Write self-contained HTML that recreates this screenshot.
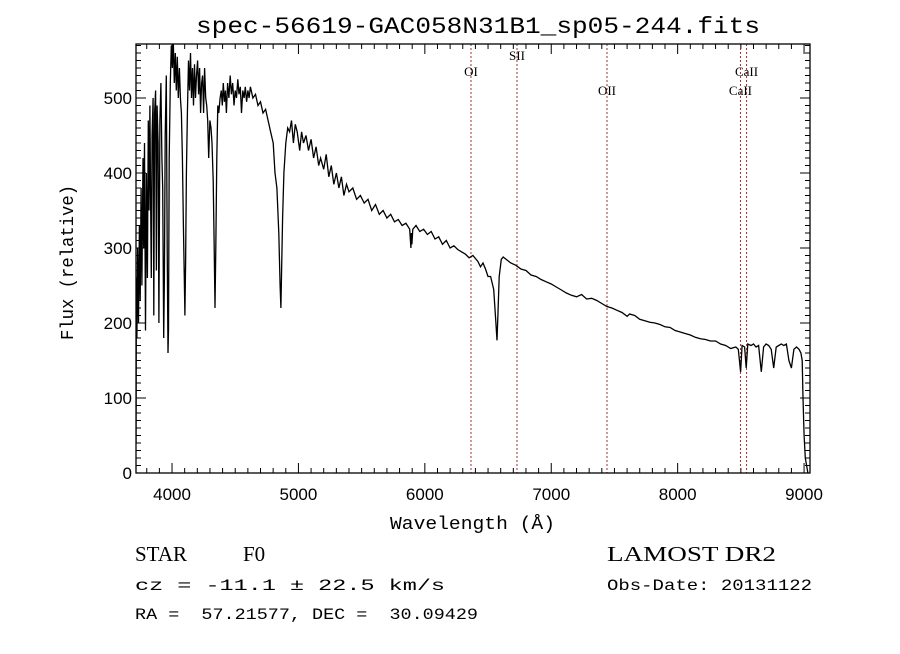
<!DOCTYPE html>
<html><head><meta charset="utf-8"><style>
body{margin:0;background:#fff;width:900px;height:649px;overflow:hidden}
svg text{font-family:"Liberation Sans",sans-serif;fill:#000}
</style></head><body>
<svg id="chart" width="900" height="649" viewBox="0 0 900 649" xmlns="http://www.w3.org/2000/svg">
<rect width="900" height="649" fill="#fff"/>
<defs><clipPath id="plotclip"><rect x="136" y="44" width="674" height="429"/></clipPath></defs>
<text x="196" y="33" font-size="23" textLength="564" lengthAdjust="spacingAndGlyphs" style="font-family:'Liberation Mono',monospace">spec-56619-GAC058N31B1_sp05-244.fits</text>
<g id="ticks" stroke="#000" stroke-width="1"></g>
<g id="xlabels"></g>
<g id="ylabels"></g>
<g id="lines"></g>
<path id="spec" fill="none" stroke="#000" stroke-width="1.3" clip-path="url(#plotclip)"/>
<rect x="136" y="44" width="674" height="429" fill="none" stroke="#000" stroke-width="1.3"/>
<text x="390" y="529" font-size="18" textLength="165" lengthAdjust="spacingAndGlyphs" style="font-family:'Liberation Mono',monospace">Wavelength (Å)</text>
<text transform="translate(73,340) rotate(-90)" font-size="18" textLength="155" lengthAdjust="spacingAndGlyphs" style="font-family:'Liberation Mono',monospace">Flux (relative)</text>
<text x="135" y="561" font-size="21" style="font-family:'Liberation Serif',serif">STAR</text>
<text x="243" y="561" font-size="21" style="font-family:'Liberation Serif',serif">F0</text>
<text x="607" y="561" font-size="21" textLength="169" lengthAdjust="spacingAndGlyphs" style="font-family:'Liberation Serif',serif">LAMOST DR2</text>
<text x="135" y="590" font-size="16" textLength="310" lengthAdjust="spacingAndGlyphs" style="font-family:'Liberation Mono',monospace">cz = -11.1 ± 22.5 km/s</text>
<text x="607" y="590" font-size="16" textLength="205" lengthAdjust="spacingAndGlyphs" style="font-family:'Liberation Mono',monospace">Obs-Date: 20131122</text>
<text x="135" y="619" font-size="16" xml:space="preserve" textLength="343" lengthAdjust="spacingAndGlyphs" style="font-family:'Liberation Mono',monospace;white-space:pre">RA =  57.21577, DEC =  30.09429</text>
</svg>
<script>
const xTicks=[4000,5000,6000,7000,8000,9000];
const yTicks=[0,100,200,300,400,500];
const lineNames=["OI","SII","OII","CaII","CaII"];
const lineWaves=[6365,6729,7441,8497,8545];
const lineLabelY=[76,60,95,95,76];
const waves=[3715,3718,3722,3728,3735,3742,3748,3755,3762,3770,3776,3782,3790,3797,3805,3812,3818,3825,3830,3836,3842,3850,3856,3862,3870,3876,3882,3890,3896,3904,3912,3920,3926,3934,3940,3946,3955,3962,3968,3972,3978,3986,3994,4002,4010,4018,4026,4034,4042,4050,4058,4066,4074,4082,4090,4097,4102,4107,4114,4122,4130,4138,4146,4154,4162,4170,4178,4186,4194,4202,4210,4218,4226,4234,4242,4250,4258,4266,4274,4282,4290,4300,4308,4316,4326,4334,4340,4346,4354,4362,4370,4380,4390,4398,4406,4414,4422,4430,4440,4450,4460,4470,4480,4490,4500,4510,4520,4530,4540,4550,4560,4570,4580,4590,4600,4610,4620,4640,4660,4680,4700,4720,4740,4760,4780,4800,4815,4830,4845,4855,4861,4867,4875,4885,4900,4915,4930,4945,4960,4975,4990,5010,5025,5040,5060,5080,5100,5120,5140,5160,5175,5200,5220,5240,5260,5280,5300,5320,5340,5360,5380,5400,5430,5460,5490,5520,5550,5580,5610,5640,5670,5700,5730,5760,5790,5820,5850,5880,5890,5894,5898,5905,5930,5960,5990,6020,6050,6080,6110,6140,6170,6200,6230,6260,6290,6320,6350,6380,6420,6440,6460,6480,6500,6520,6545,6562,6571,6578,6588,6605,6620,6650,6680,6720,6760,6800,6840,6880,6920,6960,7000,7040,7080,7120,7160,7200,7240,7280,7320,7360,7400,7440,7480,7520,7560,7600,7620,7660,7700,7740,7780,7820,7860,7900,7940,7980,8020,8060,8100,8140,8180,8220,8260,8300,8340,8380,8420,8460,8480,8498,8510,8530,8542,8555,8580,8600,8620,8640,8662,8680,8700,8720,8740,8760,8780,8800,8820,8840,8860,8880,8900,8920,8940,8960,8975,8985,8992,9000,9010,9030];
const flux=[40,260,180,300,200,330,230,380,250,420,300,440,190,400,260,470,350,490,380,260,450,500,210,480,510,270,490,440,200,470,520,420,380,180,260,450,530,300,160,190,420,520,570,540,575,520,560,510,555,500,540,500,480,420,330,260,210,280,400,480,550,510,560,500,540,490,545,500,530,550,505,540,480,520,530,480,540,500,490,470,420,470,460,440,390,300,220,300,420,490,480,500,510,490,520,495,510,480,520,500,530,505,520,490,510,500,525,505,515,480,510,500,515,495,510,500,515,500,505,490,495,480,485,470,455,440,400,380,320,250,220,270,340,400,440,460,455,470,440,465,455,430,455,440,450,430,445,420,435,410,420,405,425,395,410,385,400,380,395,370,385,375,380,365,370,360,365,350,358,345,350,340,345,335,338,330,333,325,300,320,305,325,330,322,325,318,322,312,315,305,310,300,303,298,295,292,287,290,282,275,280,272,262,262,245,200,177,210,262,285,288,284,280,277,272,270,264,262,258,255,252,248,244,240,237,235,238,232,233,230,226,222,220,217,214,209,212,210,205,203,201,200,198,195,194,190,188,186,184,181,179,178,176,176,172,170,166,168,165,135,170,168,140,172,170,172,168,170,135,168,172,170,165,140,168,170,172,170,172,150,140,165,168,165,160,150,100,50,20,0];
const X0=136,X1=810,Y0=473,Y1=44,WMIN=3715,WMAX=9047,FMIN=0,FMAX=572;
function sx(w){return X0+(w-WMIN)/(WMAX-WMIN)*(X1-X0);}
function sy(f){return Y0-(f-FMIN)/(FMAX-FMIN)*(Y0-Y1);}
const NS="http://www.w3.org/2000/svg";
function mk(tag,attrs,parent){const e=document.createElementNS(NS,tag);for(const k in attrs)e.setAttribute(k,attrs[k]);parent.appendChild(e);return e;}
const tg=document.getElementById('ticks');
let d="";
for(let w=3800;w<=9000;w+=100){const x=sx(w);const L=(w%1000===0)?10:5;d+=`M${x},${Y0}v${-L}M${x},${Y1}v${L}`;}
for(let f=0;f<=570;f+=10){const y=sy(f);const L=(f%100===0)?10:5;d+=`M${X0},${y}h${L}M${X1},${y}h${-L}`;}
const tp=mk('path',{d:d},tg);


const xl=document.getElementById('xlabels');
xTicks.forEach(v=>{const t=mk('text',{x:sx(v),y:Y0+27,'font-size':17,'text-anchor':'middle'},xl);t.textContent=v;

});
const yl=document.getElementById('ylabels');
yTicks.forEach(v=>{const t=mk('text',{x:X0-4,y:sy(v)+6,'font-size':17,'text-anchor':'end'},yl);t.textContent=v;

});
const lg=document.getElementById('lines');
lineWaves.forEach((w,i)=>{const x=sx(w);
const ln=mk('line',{x1:x,x2:x,y1:Y1,y2:Y0,stroke:'#a03030','stroke-width':1,'stroke-dasharray':'2,2'},lg);


const t=mk('text',{x:x,y:lineLabelY[i],'font-size':13,'text-anchor':'middle',style:"font-family:'Liberation Serif',serif"},lg);t.textContent=lineNames[i];

});
let p="";waves.forEach((w,i)=>{p+=(i?"L":"M")+sx(w).toFixed(1)+","+sy(flux[i]).toFixed(1);});
document.getElementById('spec').setAttribute('d',p);
</script>
</body></html>
